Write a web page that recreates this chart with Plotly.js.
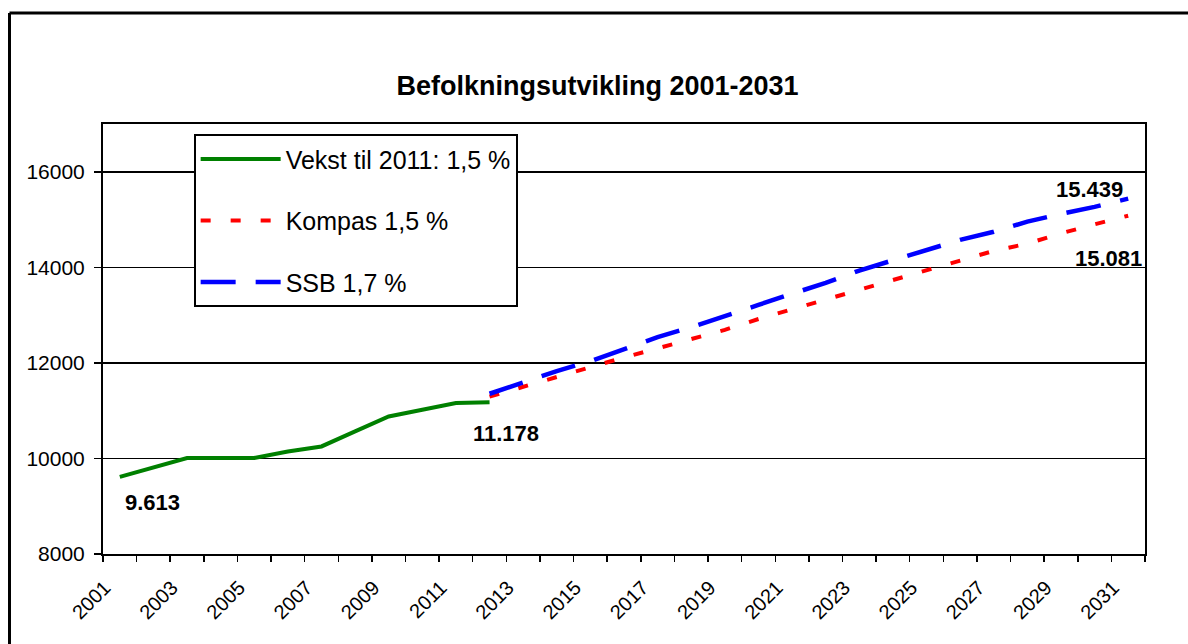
<!DOCTYPE html>
<html>
<head>
<meta charset="utf-8">
<script src="https://cdn.plot.ly/plotly-3.0.1.min.js"></script>
<style>html,body{margin:0;padding:0;background:#fff}#chart{width:1188px;height:644px}</style>
</head>
<body>
<div id="chart"></div>
<script>
// ---- data ----
const histYears = [2001, 2002, 2003, 2004, 2005, 2006, 2007, 2008, 2009, 2010, 2011, 2012];
const histValues = [9613, 9820, 10010, 10010, 10010, 10146, 10251, 10565, 10879, 11019, 11159, 11178];
const projYears = [2012, 2013, 2014, 2015, 2016, 2017, 2018, 2019, 2020, 2021, 2022, 2023, 2024, 2025, 2026, 2027, 2028, 2029, 2030, 2031];
const kompasValues = [11293, 11500, 11715, 11914, 12115, 12303, 12502, 12692, 12918, 13121, 13310, 13515, 13728, 13939, 14123, 14345, 14496, 14711, 14900, 15081];
const ssbValues = [11354, 11588, 11828, 12036, 12278, 12540, 12747, 12992, 13213, 13448, 13674, 13933, 14144, 14354, 14575, 14745, 14956, 15119, 15266, 15439];
const tickYears = [2001, 2003, 2005, 2007, 2009, 2011, 2013, 2015, 2017, 2019, 2021, 2023, 2025, 2027, 2029, 2031];
const seriesNames = ["Vekst til 2011: 1,5 %", "Kompas 1,5 %", "SSB 1,7 %"];
const chartTitle = "Befolkningsutvikling 2001-2031";

const FONT = "Liberation Sans, Arial, sans-serif";
function fmt(v) { return String(v).replace(/\B(?=(\d{3})+(?!\d))/g, "."); }

const traces = [
  {x: histYears, y: histValues, name: seriesNames[0], legendgroup: "a", mode: "lines",
   line: {color: "#008000", width: 4}},
  {x: projYears, y: kompasValues, name: seriesNames[1], legendgroup: "b", mode: "lines",
   line: {color: "#ff0000", width: 4, dash: "10px,20px"}},
  {x: projYears, y: ssbValues, name: seriesNames[2], legendgroup: "c", mode: "lines",
   line: {color: "#0000ff", width: 4.5, dash: "35px,20px"}}
];

const lastH = histValues.length - 1, lastP = projYears.length - 1;
const labelFont = {family: FONT, size: 22, color: "#000", weight: "bold"};
const annotations = [
  {x: histYears[0], y: histValues[0], text: fmt(histValues[0]), xshift: 33, yshift: -26},
  {x: histYears[lastH], y: histValues[lastH], text: fmt(histValues[lastH]), xshift: 16, yshift: -31},
  {x: projYears[lastP], y: ssbValues[lastP], text: fmt(ssbValues[lastP]), xshift: -39, yshift: 9},
  {x: projYears[lastP], y: kompasValues[lastP], text: fmt(kompasValues[lastP]), xshift: -20, yshift: -43}
].map(a => Object.assign(a, {xref: "x", yref: "y", showarrow: false, xanchor: "center", yanchor: "middle", font: labelFont}));

const layout = {
  width: 1188, height: 644,
  margin: {l: 103, r: 43, t: 124, b: 90},
  paper_bgcolor: "#fff", plot_bgcolor: "#fff",
  font: {family: FONT, color: "#000"},
  title: {text: chartTitle, font: {family: FONT, size: 27, color: "#000", weight: "bold"},
          xref: "container", x: 0.503, xanchor: "center", yref: "container", y: 1 - 86/644, yanchor: "middle"},
  xaxis: {
    range: [2000.5, 2031.5], tickmode: "array", tickvals: tickYears, ticktext: tickYears.map(String),
    tickangle: -45, tickfont: {family: FONT, size: 20, color: "#000"},
    ticks: "", showgrid: false, zeroline: false,
    showline: true, linecolor: "#000", linewidth: 2, mirror: true,
    ticklabelshift: -15, ticklabelstandoff: 12,
    minor: {tick0: 2000.5, dtick: 1, ticks: "outside", ticklen: 6, tickcolor: "#000", tickwidth: 1.5, showgrid: false}
  },
  yaxis: {
    range: [8000, 17000], tick0: 0, dtick: 2000, tickformat: "d",
    tickfont: {family: FONT, size: 21, color: "#000"},
    ticks: "outside", ticklen: 7, tickcolor: "#000", tickwidth: 1.5, ticklabelstandoff: 5,
    showgrid: true, gridcolor: "#000", gridwidth: 1.5, zeroline: false,
    showline: true, linecolor: "#000", linewidth: 2, mirror: true
  },
  showlegend: true,
  legend: {x: 0.087, y: 0.976, xanchor: "left", yanchor: "top", bgcolor: "#fff",
           bordercolor: "#000", borderwidth: 2, font: {family: FONT, size: 25, color: "#000"},
           traceorder: "grouped", tracegroupgap: 26, itemwidth: 80},
  annotations: annotations,
  shapes: [
    {type: "line", xref: "paper", yref: "paper", x0: (9.5-103)/1042, x1: (1200-103)/1042, y0: (554-13)/430, y1: (554-13)/430, line: {color: "#000", width: 3}},
    {type: "line", xref: "paper", yref: "paper", x0: (9.5-103)/1042, x1: (9.5-103)/1042, y0: (554-13)/430, y1: -0.3, line: {color: "#000", width: 3}}
  ]
};

Plotly.newPlot("chart", traces, layout, {displayModeBar: false, staticPlot: true});
</script>
</body>
</html>
